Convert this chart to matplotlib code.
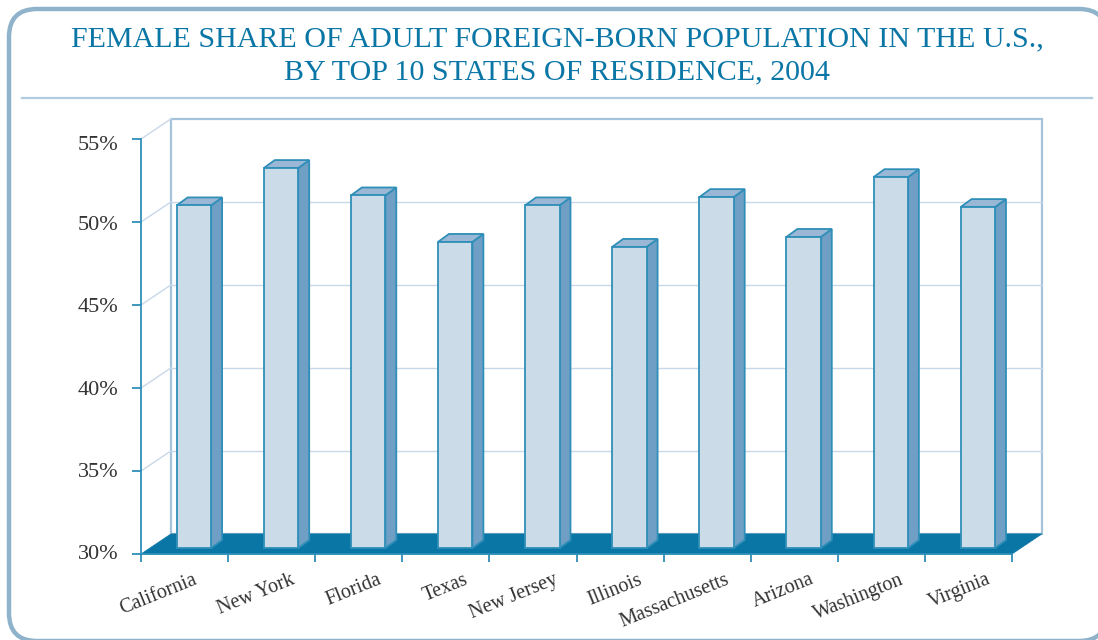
import matplotlib
matplotlib.use("Agg")
import matplotlib.pyplot as plt
from matplotlib.patches import FancyBboxPatch, Polygon, Rectangle
from matplotlib.transforms import ScaledTranslation

# valores
states = ["California", "New York", "Florida", "Texas", "New Jersey",
          "Illinois", "Massachusetts", "Arizona", "Washington", "Virginia"]
shares = [51.0, 53.25, 51.6, 48.8, 51.0, 48.5, 51.5, 49.1, 52.7, 50.9]
y_ticks = [30, 35, 40, 45, 50, 55]
y_labels = ["30%", "35%", "40%", "45%", "50%", "55%"]
title = "FEMALE SHARE OF ADULT FOREIGN-BORN POPULATION IN THE U.S.,\nBY TOP 10 STATES OF RESIDENCE, 2004"

W, H = 1098, 640
plt.rcParams['font.family'] = ['Liberation Serif', 'DejaVu Serif']

BLUE = "#0a76a6"
EDGE = "#2f8fb8"
WALL = "#a6c3dc"
GRID = "#c8d8e8"
TEXT = "#333333"

fig = plt.figure(figsize=(W / 100, H / 100), dpi=100)

# marco redondeado y titulo, en pixeles de la figura
bg = fig.add_axes([0, 0, 1, 1])
bg.set_xlim(0, W)
bg.set_ylim(H, 0)
bg.axis("off")
bg.add_patch(FancyBboxPatch((34, 34), 1048, 582, boxstyle="round,pad=25,rounding_size=28",
                            fc="white", ec="#8fb3cb", lw=3.2))
bg.plot([22, 1092], [97.5, 97.5], color="#b3cbde", lw=1.6)
bg.text(557, 56, title, color=BLUE, fontsize=21.6, ha="center", va="center", linespacing=1.36)

# el eje es el plano frontal del grafico 3D
ax = fig.add_axes([141 / W, 1 - 554 / H, 871 / W, 415 / H])
ax.patch.set_alpha(0)
ax.set_xlim(0, 10)
ax.set_ylim(30, 55)

wall_dx, wall_dy = 0.344, 1.21   # profundidad de la pared
bar_dx, bar_dy = 0.126, 0.48     # profundidad de cada barra
bar_w, bar_off = 0.395, 0.41
bar_base = 30.36

# pared del fondo
ax.add_patch(Rectangle((wall_dx, 30 + wall_dy), 10, 25, fc="none", ec=WALL, lw=1.6, clip_on=False, zorder=1))
for t in y_ticks[1:-1]:
    ax.plot([wall_dx, 10 + wall_dx], [t + wall_dy, t + wall_dy], color=GRID, lw=1, clip_on=False, zorder=1)
for t in y_ticks[1:]:
    ax.plot([0, wall_dx], [t, t + wall_dy], color=GRID, lw=1, clip_on=False, zorder=1)

# piso
ax.add_patch(Polygon([(0, 30), (10, 30), (10 + wall_dx, 30 + wall_dy), (wall_dx, 30 + wall_dy)],
                     fc=BLUE, ec=BLUE, lw=0.5, clip_on=False, zorder=2))

# barras
for i, v in enumerate(shares):
    x0 = i + bar_off
    x1 = x0 + bar_w
    ax.add_patch(Polygon([(x1, bar_base), (x1 + bar_dx, bar_base + bar_dy), (x1 + bar_dx, v + bar_dy), (x1, v)],
                         fc="#6f9fc4", ec=EDGE, lw=1.3, clip_on=False, zorder=3))
    ax.add_patch(Polygon([(x0, v), (x1, v), (x1 + bar_dx, v + bar_dy), (x0 + bar_dx, v + bar_dy)],
                         fc="#9ab8d6", ec=EDGE, lw=1.3, clip_on=False, zorder=3))
    ax.add_patch(Rectangle((x0, bar_base), bar_w, v - bar_base, fc="#cbdbe8", ec=EDGE, lw=1.3, clip_on=False, zorder=4))

for s in ["top", "right"]:
    ax.spines[s].set_visible(False)
for s in ["left", "bottom"]:
    ax.spines[s].set_color(EDGE)
    ax.spines[s].set_linewidth(1.3)
    ax.spines[s].set_zorder(5)

ax.set_yticks(y_ticks)
ax.set_yticklabels(y_labels, fontsize=16, color=TEXT)
ax.tick_params(axis="y", length=6.5, width=1.3, color=EDGE, pad=10)
ax.set_xticks(range(11))
ax.set_xticklabels([])
ax.tick_params(axis="x", length=6, width=1.3, color=EDGE)

# las etiquetas del eje y no caen justo en las marcas, las corro un poco
label_shift = [1.5, 0.5, 0, 0, -0.7, -3]
for lab, d in zip(ax.get_yticklabels(), label_shift):
    lab.set_transform(lab.get_transform() + ScaledTranslation(0, d / 72, fig.dpi_scale_trans))

# nombres de los estados, girados
name_shift = [-7, 0, 0, 0, 2, 0, 0, -2, 0, 0]
for i, name in enumerate(states):
    ax.annotate(name, xy=(i + 0.75, 30), xycoords="data", xytext=(name_shift[i], -18), textcoords="offset points",
                rotation=22, rotation_mode="anchor", ha="right", va="center", fontsize=14.5, color=TEXT)

fig.savefig("out.png", dpi=100)
